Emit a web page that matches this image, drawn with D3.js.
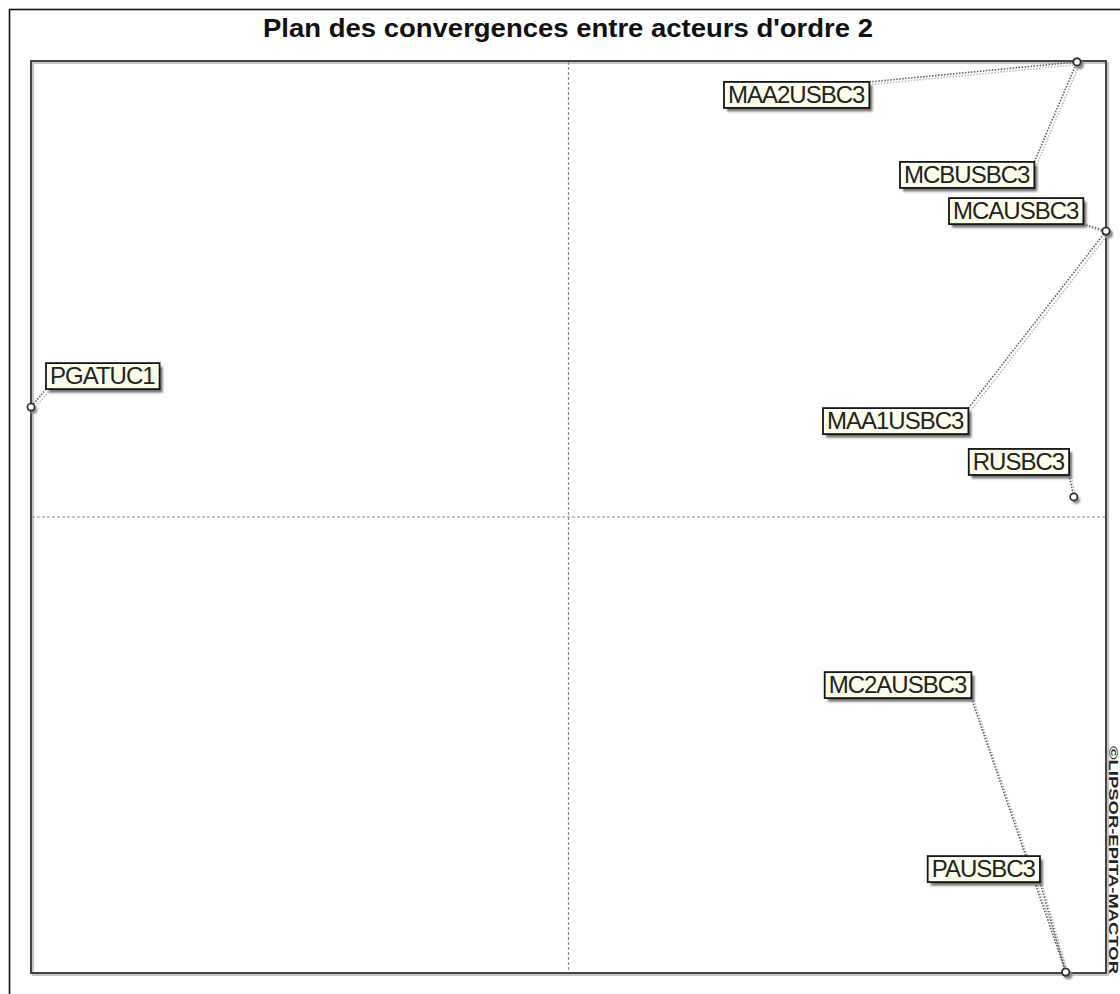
<!DOCTYPE html>
<html>
<head>
<meta charset="utf-8">
<script src="https://cdn.jsdelivr.net/npm/d3@7/dist/d3.min.js"></script>
<style>
  html, body { margin: 0; padding: 0; background: #fff; }
  svg { display: block; }
</style>
</head>
<body>
<script>
// Actors (order 2 convergence map) and their coordinates on the plane
const actors  = ["MAA2USBC3", "MCBUSBC3", "MCAUSBC3", "PGATUC1", "MAA1USBC3", "RUSBC3", "MC2AUSBC3", "PAUSBC3"];
const xValues = [0.946, 0.946, 1.000, -1.000, 1.000, 0.940, 0.925, 0.925];
const yValues = [0.998, 0.998, 0.627, 0.241, 0.627, 0.044, -0.998, -0.998];
const xDomain = [-1, 1];
const yDomain = [-1, 1];

const titleText = "Plan des convergences entre acteurs d'ordre 2";
const creditText = "©LIPSOR-EPITA-MACTOR";

// Label box placement relative to its point (pixels)
const labelOffsets = [[-353, 20], [-177, 100], [-157, -33], [15, -44], [-283, 177], [-105, -48], [-241, -300], [-138, -116]];

const W = 1120, H = 994;
const plot = { left: 31, top: 61, right: 1106, bottom: 973 };

const svg = d3.select("body").append("svg").attr("width", W).attr("height", H);

const defs = svg.append("defs");
defs.append("filter").attr("id", "soft").attr("x", "-20%").attr("y", "-50%").attr("width", "140%").attr("height", "200%")
  .append("feGaussianBlur").attr("stdDeviation", 1);

// outer frame
svg.append("rect")
  .attr("x", 9.5).attr("y", 9.5).attr("width", W + 20).attr("height", H + 20)
  .attr("fill", "none").attr("stroke", "#111").attr("stroke-width", 1.6);

// title
svg.append("text")
  .attr("x", 568).attr("y", 37)
  .attr("text-anchor", "middle")
  .attr("font-family", "Liberation Sans, Arial, sans-serif")
  .attr("font-weight", "bold").attr("font-size", 25)
  .attr("textLength", 610).attr("lengthAdjust", "spacingAndGlyphs")
  .attr("fill", "#111")
  .text(titleText);

const x = d3.scaleLinear().domain(xDomain).range([plot.left, plot.right]);
const y = d3.scaleLinear().domain(yDomain).range([plot.bottom, plot.top]);

// plot frame with shadow
svg.append("rect")
  .attr("x", plot.left + 2).attr("y", plot.top + 2)
  .attr("width", plot.right - plot.left).attr("height", plot.bottom - plot.top)
  .attr("fill", "none").attr("stroke", "#c4c4c4").attr("stroke-width", 2);
svg.append("rect")
  .attr("x", plot.left).attr("y", plot.top)
  .attr("width", plot.right - plot.left).attr("height", plot.bottom - plot.top)
  .attr("fill", "none").attr("stroke", "#454545").attr("stroke-width", 2);

// central axes (dashed)
svg.append("line")
  .attr("x1", x(0)).attr("x2", x(0)).attr("y1", plot.top + 1).attr("y2", plot.bottom - 1)
  .attr("stroke", "#8c8c8c").attr("stroke-width", 1.2).attr("stroke-dasharray", "3,2");
svg.append("line")
  .attr("x1", plot.left + 1).attr("x2", plot.right - 1).attr("y1", y(0)).attr("y2", y(0))
  .attr("stroke", "#8c8c8c").attr("stroke-width", 1.2).attr("stroke-dasharray", "3,2");

// credit, vertical on the right
svg.append("text")
  .attr("transform", `translate(1109, 860) rotate(90)`)
  .attr("text-anchor", "middle")
  .attr("font-family", "Liberation Sans, Arial, sans-serif")
  .attr("font-size", 13).attr("font-weight", "bold")
  .attr("textLength", 228).attr("lengthAdjust", "spacingAndGlyphs")
  .attr("fill", "#222")
  .text(creditText);

const data = actors.map((name, i) => ({
  name, px: x(xValues[i]), py: y(yValues[i]), off: labelOffsets[i]
}));

const fontFamily = "Liberation Sans, Arial, sans-serif";
const fontSize = 24, boxH = 26, padL = 4, padR = 5;

// measure label widths
const meas = svg.append("text").attr("font-family", fontFamily).attr("font-size", fontSize)
  .attr("letter-spacing", -1);
data.forEach(d => {
  meas.text(d.name);
  d.tw = meas.node().getComputedTextLength();
  d.bx = d.px + d.off[0];
  d.by = d.py + d.off[1];
  d.bw = d.tw + padL + padR;
  d.bh = boxH;
  // anchor on box nearest to the point
  d.ax = Math.max(d.bx, Math.min(d.px, d.bx + d.bw));
  d.ay = Math.max(d.by, Math.min(d.py, d.by + d.bh));
});
meas.remove();

// connectors
const links = svg.append("g");
links.selectAll("line.sh").data(data).join("line")
  .attr("class", "sh")
  .attr("x1", d => d.ax + 2.5).attr("y1", d => d.ay + 2.5)
  .attr("x2", d => d.px + 2.5).attr("y2", d => d.py + 2.5)
  .attr("stroke", "#bdbdbd").attr("stroke-width", 1.6).attr("stroke-dasharray", "1.5,1.5");
links.selectAll("line.ln").data(data).join("line")
  .attr("class", "ln")
  .attr("x1", d => d.ax).attr("y1", d => d.ay)
  .attr("x2", d => d.px).attr("y2", d => d.py)
  .attr("stroke", "#5e5e5e").attr("stroke-width", 1.6).attr("stroke-dasharray", "1.5,1.5");

// points
const pts = svg.append("g");
pts.selectAll("circle.sh").data(data).join("circle")
  .attr("class", "sh")
  .attr("cx", d => d.px + 2.5).attr("cy", d => d.py + 3).attr("r", 3.8)
  .attr("fill", "#888").attr("filter", "url(#soft)");
pts.selectAll("circle.pt").data(data).join("circle")
  .attr("class", "pt")
  .attr("cx", d => d.px).attr("cy", d => d.py).attr("r", 3.6)
  .attr("fill", "#fff").attr("stroke", "#2e2e2e").attr("stroke-width", 1.7);

// label boxes
const labels = svg.append("g").selectAll("g").data(data).join("g");
labels.append("rect")
  .attr("x", d => d.bx + 3).attr("y", d => d.by + 3.5)
  .attr("width", d => d.bw).attr("height", d => d.bh)
  .attr("fill", "#6e6e6e").attr("filter", "url(#soft)");
labels.append("rect")
  .attr("x", d => d.bx).attr("y", d => d.by)
  .attr("width", d => d.bw).attr("height", d => d.bh)
  .attr("fill", "#fcfdea").attr("stroke", "#151515").attr("stroke-width", 1.8);
labels.append("text")
  .attr("x", d => d.bx + padL).attr("y", d => d.by + 21)
  .attr("font-family", fontFamily).attr("font-size", fontSize)
  .attr("letter-spacing", -1)
  .attr("fill", "#222")
  .text(d => d.name);
</script>
</body>
</html>
